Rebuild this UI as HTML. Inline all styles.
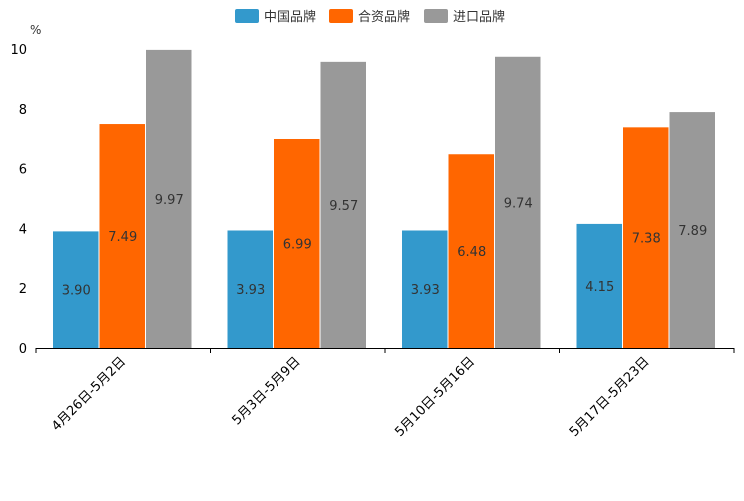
<!DOCTYPE html>
<html><head><meta charset="utf-8"><style>
body{margin:0;background:#fff;}
svg text{font-family:"DejaVu Sans","Liberation Sans","Noto Sans CJK SC",sans-serif;}
</style></head><body>
<svg id="c" width="744" height="496" xmlns="http://www.w3.org/2000/svg">
<g>
<rect x="235" y="9" width="24" height="14" rx="2" fill="#3399cc"/>
<text x="264" y="21" font-size="13" fill="#333">中国品牌</text>
<rect x="329" y="9" width="24" height="14" rx="2" fill="#ff6600"/>
<text x="358" y="21" font-size="13" fill="#333">合资品牌</text>
<rect x="424" y="9" width="24" height="14" rx="2" fill="#999999"/>
<text x="453" y="21" font-size="13" fill="#333">进口品牌</text>
</g>
<text x="30" y="34" font-size="12" fill="#333">%</text>
<g id="plot"></g>
</svg>
<script>
const categories=["4月26日-5月2日","5月3日-5月9日","5月10日-5月16日","5月17日-5月23日"];
const china=[3.90,3.93,3.93,4.15];
const jv=[7.49,6.99,6.48,7.38];
const imported=[9.97,9.57,9.74,7.89];
const yTicks=[0,2,4,6,8,10];
const series=[{n:"china",v:china,c:"#3399cc"},{n:"jv",v:jv,c:"#ff6600"},{n:"import",v:imported,c:"#999999"}];
const NS="http://www.w3.org/2000/svg";
const g=document.getElementById("plot");
const x0=36,x1=734,y0=348,yTop=49,yMax=10;
const gw=(x1-x0)/categories.length;
function y(v){return y0-(v/yMax)*(y0-yTop);}
function mk(t,a,txt){const e=document.createElementNS(NS,t);for(const k in a)e.setAttribute(k,a[k]);if(txt!=null)e.textContent=txt;g.appendChild(e);return e;}
yTicks.forEach(t=>{
const e=mk("text",{x:27,y:y(t)+5,"font-size":13,fill:"#000","text-anchor":"end"},t);


});
const bw=46.5,pad=17;
categories.forEach((c,i)=>{
series.forEach((s,j)=>{
const bx=x0+i*gw+pad+j*bw;
const r=mk("rect",{x:bx,y:y(s.v[i]),width:bw-1,height:y0-y(s.v[i]),fill:s.c});


const l=mk("text",{x:bx+bw/2,y:(y0+y(s.v[i]))/2+5,"font-size":13,fill:"#333","text-anchor":"middle"},s.v[i].toFixed(2));


});
const cx=x0+i*gw+gw/2;
const tl=mk("text",{x:cx+3,y:362,"font-size":13,fill:"#000","text-anchor":"end",transform:`rotate(-45 ${cx+3} 362)`},c);


});
for(let i=0;i<=categories.length;i++){
const t=mk("line",{x1:x0+i*gw,x2:x0+i*gw,y1:y0,y2:y0+5,stroke:"#000"});


}
const ax=mk("line",{x1:x0,x2:x1,y1:y0+0.5,y2:y0+0.5,stroke:"#000"});


</script>
</body></html>
